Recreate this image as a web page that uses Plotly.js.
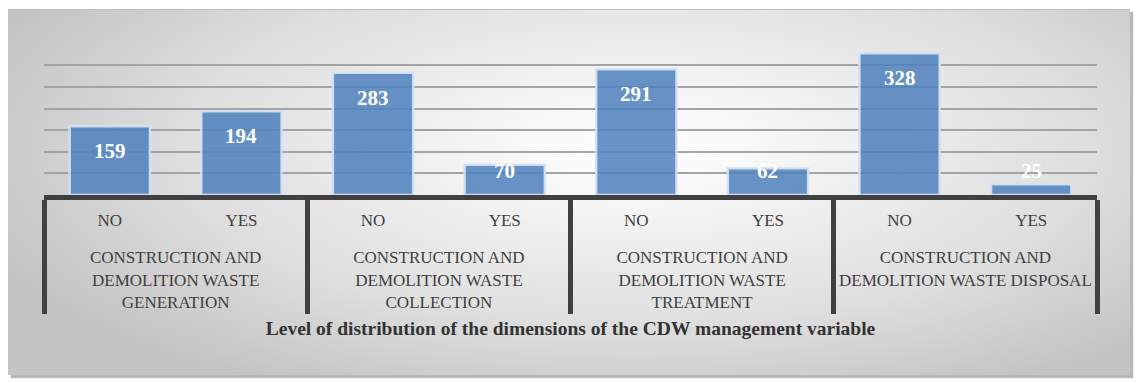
<!DOCTYPE html>
<html>
<head>
<meta charset="utf-8">
<script src="https://cdn.plot.ly/plotly-3.0.1.min.js"></script>
<style>
  html, body { margin: 0; padding: 0; background: #ffffff; }
  #wrap { position: relative; width: 1139px; height: 383px; overflow: hidden; }
  #panel {
    position: absolute; left: 8px; top: 9px; width: 1122px; height: 365px;
    background: radial-gradient(ellipse 62% 75% at 56% 38%, #ffffff 0%, #f6f6f6 20%, #dedede 65%, #c4c4c4 100%);
    border-top: 1px solid #bdbdbd;
    box-shadow: 3px 3px 1px #b8b8b8;
  }
  #chart { position: absolute; left: 0; top: 0; width: 1139px; height: 383px; }
</style>
</head>
<body>
<div id="wrap">
  <div id="panel"></div>
  <div id="chart"></div>
</div>
<script>
const groups = [
  "CONSTRUCTION AND<br>DEMOLITION WASTE<br>GENERATION",
  "CONSTRUCTION AND<br>DEMOLITION WASTE<br>COLLECTION",
  "CONSTRUCTION AND<br>DEMOLITION WASTE<br>TREATMENT",
  "CONSTRUCTION AND<br>DEMOLITION WASTE DISPOSAL"
];
const answers = ["NO", "YES"];
const noValues  = [159, 283, 291, 328];
const yesValues = [194, 70, 62, 25];
const axisTitle = "Level of distribution of the dimensions of the CDW management variable";

const serif = "'Liberation Serif', 'Times New Roman', serif";
// blank spacer line under the NO/YES labels to open the gap before the group labels
const spacer = "<br>\u00a0";

const xGroup = [], xAnswer = [], yVals = [];
groups.forEach((g, i) => {
  [noValues[i], yesValues[i]].forEach((v, j) => {
    xGroup.push(g);
    xAnswer.push(answers[j] + spacer);
    yVals.push(v);
  });
});

const trace = {
  type: "bar",
  x: [xGroup, xAnswer],
  y: yVals,
  marker: {
    color: "rgba(79,129,189,0.86)",
    line: { color: "rgba(214,226,242,0.9)", width: 2.5 }
  },
  hoverinfo: "none"
};

// value labels: near the top inside tall bars, at a fixed height near the base for short bars
const labels = yVals.map((v, i) => {
  const tall = v > 110;
  return {
    x: i, y: tall ? v : 0,
    xref: "x", yref: "y",
    text: String(v),
    showarrow: false,
    yanchor: "middle",
    yshift: tall ? -25 : 24,
    font: { family: serif, size: 21, color: "#ffffff", weight: "bold" }
  };
});

const layout = {
  width: 1139, height: 383,
  margin: { l: 44, r: 42, t: 43, b: 188 },
  paper_bgcolor: "rgba(0,0,0,0)",
  plot_bgcolor: "rgba(0,0,0,0)",
  bargap: 0.39,
  showlegend: false,
  font: { family: serif, color: "#404040", size: 17 },
  annotations: labels,
  xaxis: {
    type: "multicategory",
    showline: true, linecolor: "#404040", linewidth: 5,
    ticks: "",
    ticklabelstandoff: 6,
    showdividers: true, dividercolor: "#404040", dividerwidth: 5,
    tickfont: { family: serif, size: 17, color: "#404040" },
    showgrid: false, zeroline: false,
    automargin: false,
    title: { text: axisTitle, font: { family: serif, size: 19.5, color: "#333333", weight: "bold" }, standoff: 12 }
  },
  yaxis: {
    range: [0, 352],
    dtick: 50,
    showticklabels: false,
    ticks: "",
    showgrid: true, gridcolor: "#a4a4a4", gridwidth: 2,
    zeroline: false,
    showline: false,
    automargin: false
  }
};

Plotly.newPlot("chart", [trace], layout, { staticPlot: true, displayModeBar: false });
</script>
</body>
</html>
